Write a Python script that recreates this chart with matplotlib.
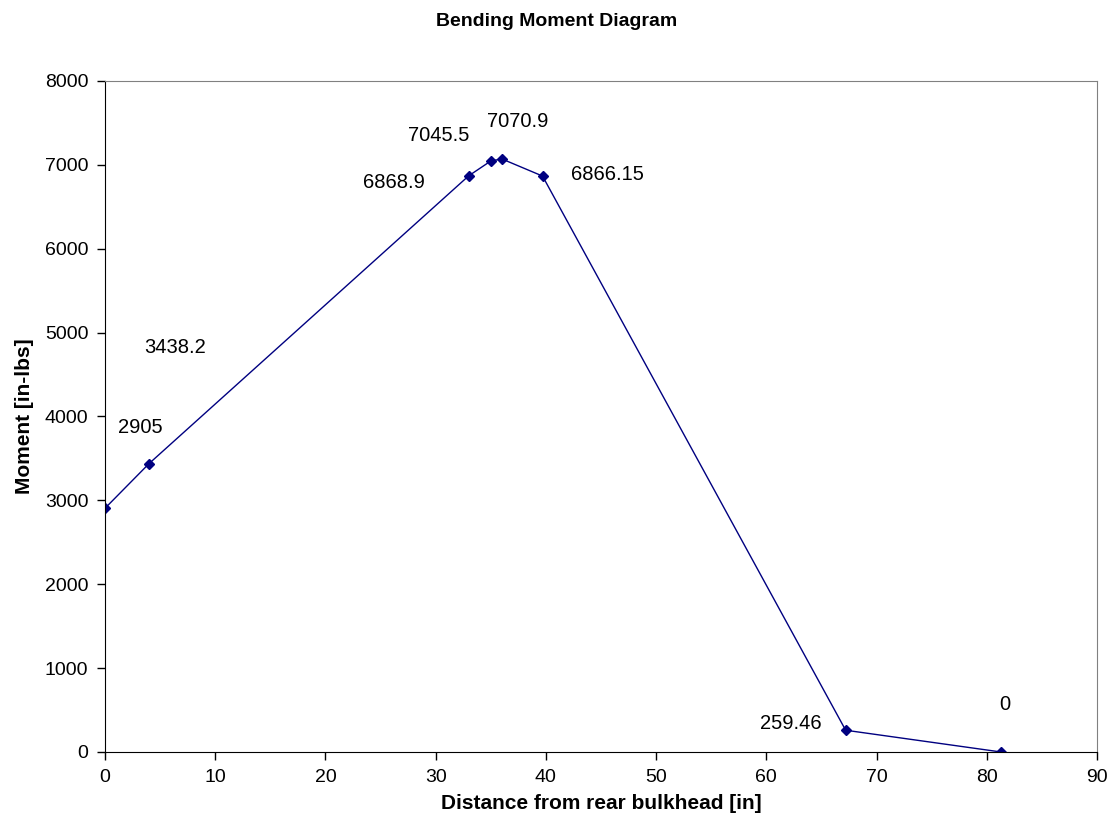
import matplotlib
matplotlib.use("Agg")
import matplotlib.pyplot as plt

plt.rcParams['font.family'] = ['Liberation Sans', 'DejaVu Sans']

# positions along fuselage [in] and bending moment [in-lbs]
distance = [0, 4, 33, 35, 36, 39.7, 67.2, 81.3]
moment = [2905, 3438.2, 6868.9, 7045.5, 7070.9, 6866.15, 259.46, 0]
labels = ["2905", "3438.2", "6868.9", "7045.5", "7070.9", "6866.15", "259.46", "0"]
# label offsets in pixels relative to each point
offsets = [(35, 81), (26, 116), (-75, -7), (-52, 26), (16, 37), (65, 2), (-55, 7), (4, 47)]

fig = plt.figure(figsize=(11.13, 8.39), dpi=100)
ax = fig.add_axes([0.0943, 0.1037, 0.8913, 0.7998])

ax.plot(distance, moment, color='#000080', lw=1.0, marker='D', ms=5,
        markerfacecolor='#000080', markeredgecolor='#000080')

for x, y, t, (dx, dy) in zip(distance, moment, labels, offsets):
    ax.annotate(t, (x, y), xytext=(dx, dy), textcoords='offset pixels',
                ha='center', va='center', fontsize=14.5)

ax.set_xlim(0, 90)
ax.set_ylim(0, 8000)
ax.set_xticks(range(0, 91, 10))
ax.set_yticks(range(0, 8001, 1000))
ax.tick_params(labelsize=14, length=6, width=1, color='black', pad=6)
ax.tick_params(axis='y', direction='out')
ax.tick_params(axis='x', direction='out')

for s in ['top', 'right']:
    ax.spines[s].set_color('#808080')
for s in ['left', 'bottom']:
    ax.spines[s].set_color('black')

ax.set_xlabel('Distance from rear bulkhead [in]', fontsize=15, fontweight='bold', labelpad=6)
ax.set_ylabel('Moment [in-lbs]', fontsize=15, fontweight='bold', labelpad=8)
fig.text(0.5, 1 - 22 / 839, 'Bending Moment Diagram', ha='center', va='center',
         fontsize=14, fontweight='bold')

fig.savefig('out.png', dpi=100)
